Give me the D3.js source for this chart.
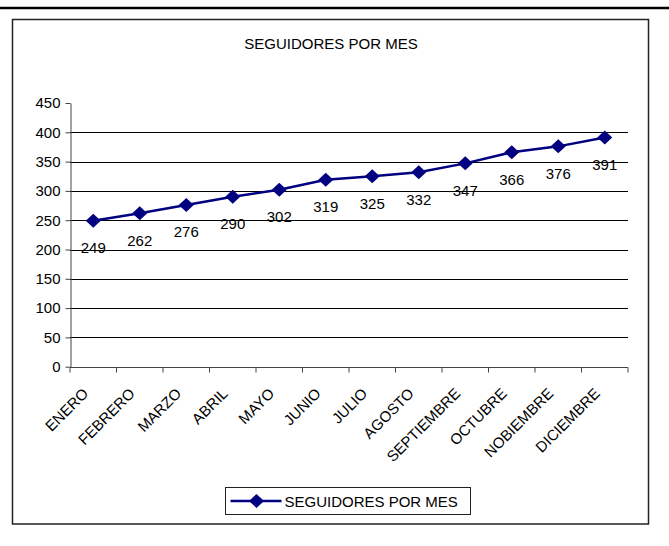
<!DOCTYPE html>
<html>
<head>
<meta charset="utf-8">
<script src="https://cdn.jsdelivr.net/npm/d3@7"></script>
<style>
    body { margin: 0; background: #fff; }
    svg { display: block; font-family: Arial, "Liberation Sans", sans-serif; }
</style>
</head>
<body>
<svg id="drawing_region"></svg>
<script>
const months = ["ENERO", "FEBRERO", "MARZO", "ABRIL", "MAYO", "JUNIO", "JULIO",
    "AGOSTO", "SEPTIEMBRE", "OCTUBRE", "NOBIEMBRE", "DICIEMBRE"];
const seguidores = [249, 262, 276, 290, 302, 319, 325, 332, 347, 366, 376, 391];
const yTicks = [0, 50, 100, 150, 200, 250, 300, 350, 400, 450];
const seriesName = "SEGUIDORES POR MES";
const chartTitle = "SEGUIDORES POR MES";

const width = 669, height = 546;
const margin = { top: 103, right: 41, bottom: 179.3, left: 70 };
const inner_width = width - margin.left - margin.right;
const inner_height = height - margin.top - margin.bottom;

const svg = d3.select('#drawing_region')
    .attr('width', width)
    .attr('height', height);

// top rule and chart frame
svg.append('line')
    .attr('x1', 0).attr('x2', width)
    .attr('y1', 8).attr('y2', 8)
    .attr('stroke', '#000')
    .attr('stroke-width', 2.5);

svg.append('rect')
    .attr('x', 12.5).attr('y', 19.5)
    .attr('width', 636).attr('height', 504.5)
    .attr('fill', 'none')
    .attr('stroke', '#222')
    .attr('stroke-width', 1.5);

svg.append('text')
    .attr('x', 331).attr('y', 49)
    .attr('text-anchor', 'middle')
    .attr('font-size', '15px')
    .attr('fill', '#000')
    .text(chartTitle);

const chart = svg.append('g')
    .attr('transform', `translate(${margin.left}, ${margin.top})`);

const xscale = d3.scaleBand()
    .domain(months)
    .range([0, inner_width]);

const yscale = d3.scaleLinear()
    .domain([0, 450])
    .range([inner_height, 0]);

// gridlines
chart.append('g')
    .selectAll('line')
    .data(yTicks.filter(t => t > 0 && t < 450))
    .join('line')
    .attr('x1', 0).attr('x2', inner_width)
    .attr('y1', d => Math.round(yscale(d)) + 0.5)
    .attr('y2', d => Math.round(yscale(d)) + 0.5)
    .attr('stroke', '#000')
    .attr('stroke-width', 1);

// y axis
const yaxis_group = chart.append('g')
    .attr('transform', 'translate(0.5, 0)')
    .call(d3.axisLeft(yscale).tickValues(yTicks).tickSize(5).tickSizeOuter(0).tickPadding(5));
yaxis_group.selectAll('text')
    .attr('font-size', '15px')
    .attr('font-family', 'Arial, "Liberation Sans", sans-serif')
    .attr('fill', '#000');
yaxis_group.selectAll('line, path').attr('stroke', '#444');

// x axis with ticks between categories
const xaxis_group = chart.append('g')
    .attr('transform', `translate(0, ${Math.round(inner_height) + 0.5})`);
xaxis_group.append('line')
    .attr('x1', 0).attr('x2', inner_width)
    .attr('stroke', '#444');
xaxis_group.selectAll('.tick')
    .data(months.map(m => xscale(m)).concat([inner_width]))
    .join('line')
    .attr('class', 'tick')
    .attr('x1', d => d).attr('x2', d => d)
    .attr('y1', 0).attr('y2', 5)
    .attr('stroke', '#444');
xaxis_group.selectAll('text')
    .data(months)
    .join('text')
    .attr('transform', d => `translate(${xscale(d) + xscale.bandwidth() / 2 - 4}, 27) rotate(-45)`)
    .attr('text-anchor', 'end')
    .attr('font-size', '15px')
    .attr('fill', '#000')
    .text(d => d);

// series line and markers
const cx = (d, i) => xscale(months[i]) + xscale.bandwidth() / 2;
const line = d3.line()
    .x((d, i) => cx(d, i))
    .y(d => yscale(d));

chart.append('path')
    .datum(seguidores)
    .attr('d', line)
    .attr('fill', 'none')
    .attr('stroke', '#000080')
    .attr('stroke-width', 2.5);

const diamond = 'M0,-7L7.5,0L0,7L-7.5,0Z';
chart.selectAll('.marker')
    .data(seguidores)
    .join('path')
    .attr('class', 'marker')
    .attr('d', diamond)
    .attr('transform', (d, i) => `translate(${cx(d, i)}, ${yscale(d)})`)
    .attr('fill', '#000080');

chart.selectAll('.label')
    .data(seguidores)
    .join('text')
    .attr('class', 'label')
    .attr('x', (d, i) => cx(d, i))
    .attr('y', d => yscale(d) + 32.5)
    .attr('text-anchor', 'middle')
    .attr('font-size', '15px')
    .attr('fill', '#000')
    .text(d => d);

// legend
const legend = svg.append('g')
    .attr('transform', 'translate(225.5, 487.5)');
legend.append('rect')
    .attr('width', 245).attr('height', 27)
    .attr('fill', '#fff')
    .attr('stroke', '#222');
legend.append('line')
    .attr('x1', 5).attr('x2', 56)
    .attr('y1', 13.5).attr('y2', 13.5)
    .attr('stroke', '#000080')
    .attr('stroke-width', 2.5);
legend.append('path')
    .attr('d', diamond)
    .attr('transform', 'translate(31, 13.5)')
    .attr('fill', '#000080');
legend.append('text')
    .attr('x', 59).attr('y', 19)
    .attr('font-size', '15px')
    .attr('fill', '#000')
    .text(seriesName);
</script>
</body>
</html>
